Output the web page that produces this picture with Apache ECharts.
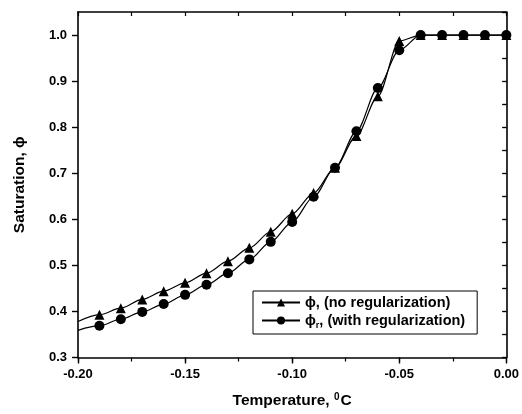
<!DOCTYPE html>
<html>
<head>
<meta charset="utf-8">
<script src="https://cdn.jsdelivr.net/npm/echarts@6/dist/echarts.min.js"></script>
<style>
  html, body { margin: 0; padding: 0; background: #fff; }
  #chart { width: 522px; height: 414px; }
</style>
</head>
<body>
<div id="chart"></div>
<script>
// temperature (°C) and saturation values
const temps = [-0.20, -0.19, -0.18, -0.17, -0.16, -0.15, -0.14, -0.13, -0.12, -0.11, -0.10,
  -0.09, -0.08, -0.07, -0.06, -0.05, -0.04, -0.03, -0.02, -0.01, 0.00]
const phi = [0.378, 0.393, 0.407, 0.426, 0.444, 0.462, 0.483, 0.509, 0.538, 0.573, 0.612,
  0.657, 0.712, 0.781, 0.867, 0.987, 1.0, 1.0, 1.0, 1.0, 1.0]
const phiR = [0.359, 0.369, 0.383, 0.399, 0.416, 0.436, 0.458, 0.483, 0.513, 0.551, 0.594,
  0.649, 0.712, 0.791, 0.885, 0.967, 1.0, 1.0, 1.0, 1.0, 1.0]
const names = ['phi', 'phiR']

const font = '"Liberation Sans", Arial, sans-serif'

// first point (-0.20) is only the start of the fitted curve, no marker
function toData(ys) {
  return temps.map(function (t, i) {
    if (i === 0) return { value: [t, ys[i]], symbol: 'none' }
    return [t, ys[i]]
  })
}

const myChart = echarts.init(document.getElementById('chart'))

const axisLine = { show: true, onZero: false, lineStyle: { color: '#000', width: 1.6 } }
const hidden = { show: false }

myChart.setOption({
  backgroundColor: '#fff',
  animation: false,
  grid: { left: 78, right: 12, top: 12, bottom: 55 },
  legend: {
    orient: 'vertical',
    left: 253,
    top: 291,
    padding: [4, 12, 4, 8],
    itemGap: 3,
    itemWidth: 38,
    itemHeight: 10,
    borderColor: '#000',
    borderWidth: 1,
    selectedMode: false,
    data: names,
    formatter: function (name) {
      if (name === 'phi') return '{a|ϕ, (no regularization)}'
      return '{a|ϕ}{s|r}{a|, (with regularization)}'
    },
    textStyle: {
      rich: {
        a: { fontFamily: font, fontWeight: 'bold', fontSize: 14.5, lineHeight: 19, color: '#000' },
        s: { fontFamily: font, fontWeight: 'bold', fontSize: 9, lineHeight: 10, verticalAlign: 'bottom', color: '#000' }
      }
    }
  },
  xAxis: [
    {
      type: 'value',
      min: -0.2,
      max: 0,
      interval: 0.05,
      position: 'bottom',
      axisLine: axisLine,
      axisTick: { show: true, inside: false, length: 6, lineStyle: { color: '#000', width: 1.4 } },
      splitLine: hidden,
      axisLabel: {
        margin: 10,
        fontFamily: font, fontWeight: 'bold', fontSize: 13, color: '#000',
        formatter: function (v) { return v.toFixed(2) }
      },
      name: '{a|Temperature, }{sup|0}{a|C}',
      nameLocation: 'middle',
      nameGap: 35,
      nameTextStyle: {
        rich: {
          a: { fontFamily: font, fontWeight: 'bold', fontSize: 15.5, color: '#000' },
          sup: { fontFamily: font, fontWeight: 'bold', fontSize: 10, color: '#000', verticalAlign: 'top', padding: [0, 1, 7, 0] }
        }
      }
    },
    {
      // minor ticks, bottom
      type: 'value', min: -0.2, max: 0, interval: 0.025, position: 'bottom',
      axisLine: hidden, splitLine: hidden, axisLabel: hidden,
      axisTick: { show: true, length: 4, lineStyle: { color: '#000', width: 1.2 } }
    },
    {
      // mirrored top axis
      type: 'value', min: -0.2, max: 0, interval: 0.025, position: 'top',
      axisLine: axisLine, splitLine: hidden, axisLabel: hidden,
      axisTick: { show: true, inside: true, length: 4, lineStyle: { color: '#000', width: 1.2 } }
    }
  ],
  yAxis: [
    {
      type: 'value',
      min: 0.3,
      max: 1.05,
      interval: 0.1,
      position: 'left',
      axisLine: axisLine,
      axisTick: { show: true, inside: false, length: 6, lineStyle: { color: '#000', width: 1.4 } },
      splitLine: hidden,
      axisLabel: {
        margin: 11,
        showMaxLabel: false,
        fontFamily: font, fontWeight: 'bold', fontSize: 13, color: '#000',
        formatter: function (v) { return v.toFixed(1) }
      },
      name: 'Saturation, ϕ',
      nameLocation: 'middle',
      nameGap: 50,
      nameTextStyle: { fontFamily: font, fontWeight: 'bold', fontSize: 15.5, color: '#000' }
    },
    {
      // minor ticks, left
      type: 'value', min: 0.3, max: 1.05, interval: 0.05, position: 'left',
      axisLine: hidden, splitLine: hidden, axisLabel: hidden,
      axisTick: { show: true, length: 4, lineStyle: { color: '#000', width: 1.2 } }
    },
    {
      // mirrored right axis
      type: 'value', min: 0.3, max: 1.05, interval: 0.05, position: 'right',
      axisLine: axisLine, splitLine: hidden, axisLabel: hidden,
      axisTick: { show: true, inside: true, length: 4, lineStyle: { color: '#000', width: 1.2 } }
    }
  ],
  series: [
    {
      name: 'phi',
      type: 'line',
      smooth: 0.3,
      smoothMonotone: 'x',
      symbol: 'triangle',
      symbolSize: 10,
      data: toData(phi),
      lineStyle: { color: '#000', width: 1.2 },
      itemStyle: { color: '#000' }
    },
    {
      name: 'phiR',
      type: 'line',
      smooth: 0.3,
      smoothMonotone: 'x',
      symbol: 'circle',
      symbolSize: 10,
      data: toData(phiR),
      lineStyle: { color: '#000', width: 1.2 },
      itemStyle: { color: '#000' }
    }
  ]
})

window.addEventListener('resize', function () {
  myChart.resize()
})
</script>
</body>
</html>
